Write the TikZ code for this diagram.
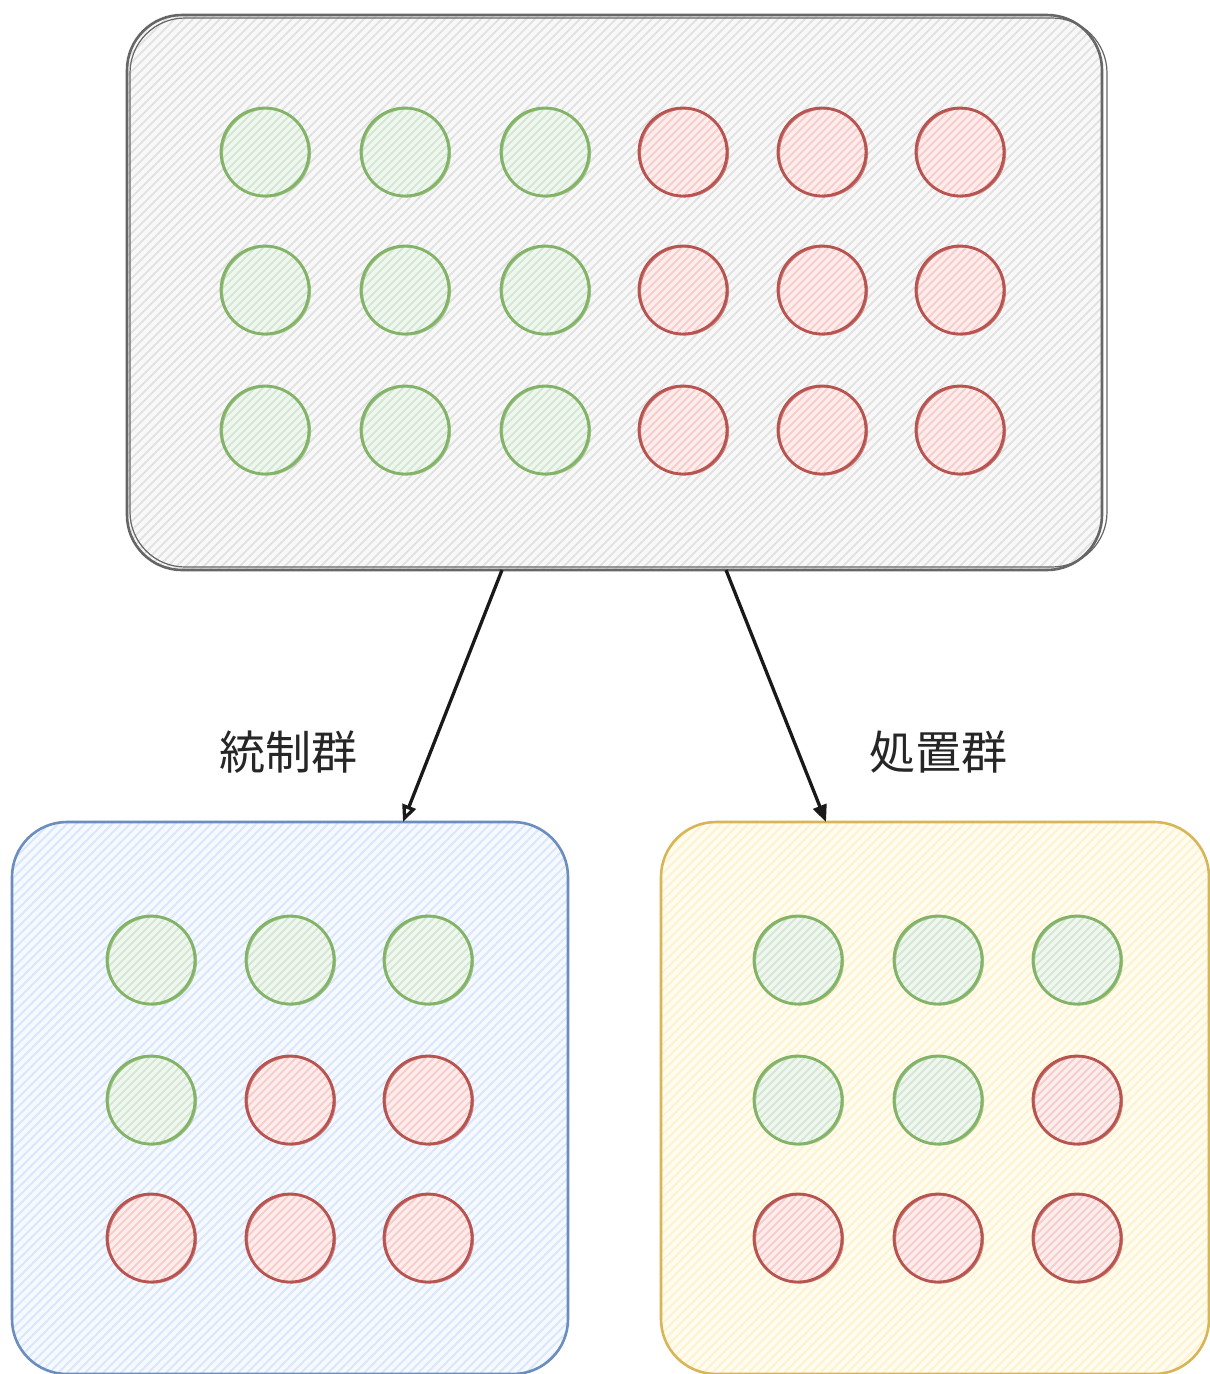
\documentclass[tikz,border=0pt]{standalone}
\usepackage{fontspec}
\newfontfamily\cjk{Noto Sans CJK JP}
\usetikzlibrary{arrows.meta}
\definecolor{gS}{HTML}{82B366}\definecolor{gF}{HTML}{D5E8D4}
\definecolor{rS}{HTML}{B85450}\definecolor{rF}{HTML}{F8CECC}
\definecolor{bS}{HTML}{6C8EBF}\definecolor{bF}{HTML}{DAE8FC}
\definecolor{yS}{HTML}{D6B656}\definecolor{yF}{HTML}{FFF2CC}
\definecolor{kS}{HTML}{666666}\definecolor{kF}{HTML}{E2E2E2}
\begin{document}
\begin{tikzpicture}[x=1pt,y=-1pt,
  hatch/.style={path picture={
    \foreach \k in {-60,-52,...,60}
      \draw[#1,line width=2pt,shift={(path picture bounding box.center)}] (\k-50,50) -- ++(100,-100);}},
  bighatch/.style={path picture={
    \foreach \k in {-1100,-1091,...,1100}
      \draw[#1,line width=2pt,shift={(path picture bounding box.center)}] (\k-600,600) -- ++(1200,-1200);}},
  ball/.style 2 args={circle,inner sep=0pt,minimum size=88pt,draw=#1,line width=2.8pt,
    fill=#2!35,hatch=#2,
    postaction={draw=#1,line width=1.1pt,opacity=0.7,transform canvas={shift={(1.5pt,-1pt)}}}},
  gball/.style={ball={gS}{gF}},
  rball/.style={ball={rS}{rF}},
  panel/.style 2 args={rectangle,rounded corners=55pt,inner sep=0pt,draw=#1,line width=2.6pt,
    fill=#2!25,bighatch=#2},
  lbl/.style={font=\cjk\fontsize{46}{52}\selectfont,text=black!85},
  conn/.style={draw=black!90,line width=3.3pt,-{Triangle[length=17pt,width=14pt,open]}},
  conn2/.style={draw=black!90,line width=3.3pt,-{Triangle[length=17pt,width=14pt]}}
]
\useasboundingbox (0,0) rectangle (1210,1374);
\fill[white] (0,0) rectangle (1210,1374);

% panels
\node[panel={kS}{kF},minimum width=975pt,minimum height=555pt] (top) at (614.5,292.5) {};
\draw[kS,line width=1.2pt,rounded corners=55pt] (130,18) rectangle (1107,567);
\node[panel={bS}{bF},minimum width=556pt,minimum height=552pt] (ctrl) at (290,1098) {};
\node[panel={yS}{yF},minimum width=548pt,minimum height=552pt] (trt) at (935,1098) {};

% top balls
\foreach \r/\y in {1/152,2/290,3/430}{
  \node[gball] (t\r1) at (265,\y) {};
  \node[gball] (t\r2) at (405,\y) {};
  \node[gball] (t\r3) at (545,\y) {};
  \node[rball] (t\r4) at (683,\y) {};
  \node[rball] (t\r5) at (822,\y) {};
  \node[rball] (t\r6) at (960,\y) {};
}

% control group balls
\node[gball] (c11) at (151,960) {};
\node[gball] (c12) at (290,960) {};
\node[gball] (c13) at (428,960) {};
\node[gball] (c21) at (151,1100) {};
\node[rball] (c22) at (290,1100) {};
\node[rball] (c23) at (428,1100) {};
\node[rball] (c31) at (151,1238) {};
\node[rball] (c32) at (290,1238) {};
\node[rball] (c33) at (428,1238) {};

% treatment group balls
\node[gball] (s11) at (798,960) {};
\node[gball] (s12) at (938,960) {};
\node[gball] (s13) at (1077,960) {};
\node[gball] (s21) at (798,1100) {};
\node[gball] (s22) at (938,1100) {};
\node[rball] (s23) at (1077,1100) {};
\node[rball] (s31) at (798,1238) {};
\node[rball] (s32) at (938,1238) {};
\node[rball] (s33) at (1077,1238) {};

% connectors
\coordinate (a1s) at (502,570);
\coordinate (a1e) at (403,822);
\coordinate (a2s) at (726,570);
\coordinate (a2e) at (826,822);
\draw[conn] (a1s) -- (a1e);
\draw[conn2] (a2s) -- (a2e);

% labels
\node[lbl] (lc) at (288,752) {統制群};
\node[lbl] (lt) at (938,752) {処置群};
\end{tikzpicture}
\end{document}
